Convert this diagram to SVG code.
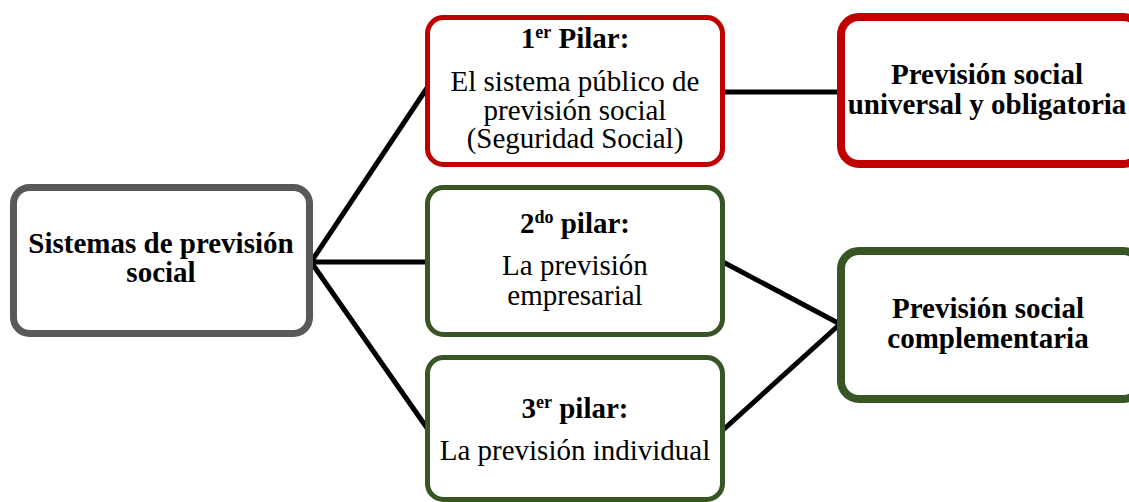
<svg xmlns="http://www.w3.org/2000/svg" width="1129" height="502" viewBox="0 0 1129 502">
<style>
.box{fill:#fff;}
.grey{stroke:#595959;stroke-width:7;}
.red{stroke:#C00000;stroke-width:5;}
.redT{stroke:#C00000;stroke-width:8;}
.green{stroke:#375623;stroke-width:5;}
.greenT{stroke:#375623;stroke-width:8;}
text{font-family:"Liberation Serif","Times New Roman",serif;font-size:29px;fill:#000;text-anchor:middle;}
.b{font-weight:bold;}
.sup{font-size:18px;}
.conn line{stroke:#000;stroke-width:5;stroke-linecap:butt;}
</style>
<g class="conn" id="connectors">
<line x1="311" y1="262" x2="427" y2="88"/>
<line x1="311" y1="262" x2="427" y2="262"/>
<line x1="311" y1="262" x2="427" y2="428"/>
<line x1="723" y1="92" x2="840" y2="92"/>
<line x1="723" y1="262" x2="840" y2="324"/>
<line x1="723" y1="430" x2="840" y2="324"/>
</g>
<g id="sistemas">
<rect class="box grey" x="13.5" y="187.5" width="296" height="146" rx="16"/>
<text class="b" x="161" y="253">Sistemas de previsión</text>
<text class="b" x="161" y="282">social</text>
</g>
<g id="pilar1">
<rect class="box red" x="427.5" y="17.5" width="295" height="147" rx="16"/>
<text class="b" x="575" y="48">1<tspan class="sup" dy="-10">er</tspan><tspan dy="10"> Pilar:</tspan></text>
<text x="575" y="91">El sistema público de</text>
<text x="575" y="120">previsión social</text>
<text x="575" y="148">(Seguridad Social)</text>
</g>
<g id="pilar2">
<rect class="box green" x="427.5" y="187.5" width="295" height="147" rx="16"/>
<text class="b" x="575" y="233">2<tspan class="sup" dy="-10">do</tspan><tspan dy="10"> pilar:</tspan></text>
<text x="575" y="275">La previsión</text>
<text x="575" y="305">empresarial</text>
</g>
<g id="pilar3">
<rect class="box green" x="427.5" y="357.5" width="295" height="142" rx="16"/>
<text class="b" x="575" y="418">3<tspan class="sup" dy="-10">er</tspan><tspan dy="10"> pilar:</tspan></text>
<text x="575" y="460">La previsión individual</text>
</g>
<g id="universal">
<rect class="box redT" x="841" y="17" width="300" height="147" rx="18"/>
<text class="b" x="987" y="84">Previsión social</text>
<text class="b" x="987" y="114">universal y obligatoria</text>
</g>
<g id="complementaria">
<rect class="box greenT" x="841" y="251" width="300" height="148" rx="18"/>
<text class="b" x="988" y="318">Previsión social</text>
<text class="b" x="988" y="348">complementaria</text>
</g>
</svg>
